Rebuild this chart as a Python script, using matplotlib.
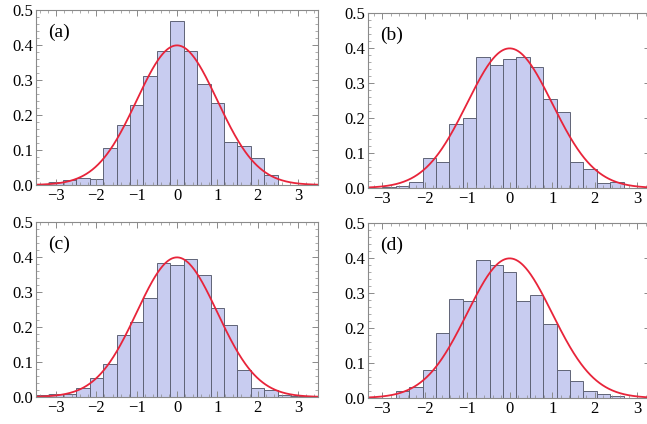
import numpy as np
import matplotlib
matplotlib.use("Agg")
import matplotlib.pyplot as plt
from matplotlib.ticker import MultipleLocator

plt.rcParams['font.family'] = ['Liberation Serif', 'DejaVu Serif']

# ---- data ----
width_a = 1.0 / 3.0
centers_a = [-3.0, -2.667, -2.333, -2.0, -1.667, -1.333, -1.0, -0.667, -0.333, 0.0,
             0.333, 0.667, 1.0, 1.333, 1.667, 2.0, 2.333]
heights_a = [0.010, 0.013, 0.020, 0.018, 0.107, 0.172, 0.228, 0.311, 0.383, 0.469,
             0.383, 0.289, 0.233, 0.124, 0.112, 0.077, 0.029]

width_b = 0.315
centers_b = [-2.835, -2.52, -2.205, -1.89, -1.575, -1.26, -0.945, -0.63, -0.315, 0.0,
             0.315, 0.63, 0.945, 1.26, 1.575, 1.89, 2.205, 2.52]
heights_b = [0.003, 0.005, 0.017, 0.085, 0.074, 0.182, 0.199, 0.375, 0.351, 0.368,
             0.375, 0.346, 0.254, 0.217, 0.073, 0.055, 0.014, 0.017]

width_c = 1.0 / 3.0
centers_c = [-3.333, -3.0, -2.667, -2.333, -2.0, -1.667, -1.333, -1.0, -0.667, -0.333, 0.0,
             0.333, 0.667, 1.0, 1.333, 1.667, 2.0, 2.333, 2.667, 3.0]
heights_c = [0.005, 0.009, 0.010, 0.027, 0.053, 0.094, 0.178, 0.215, 0.282, 0.382, 0.377,
             0.395, 0.348, 0.255, 0.207, 0.076, 0.027, 0.019, 0.007, 0.003]

width_d = 0.315
centers_d = [-2.52, -2.205, -1.89, -1.575, -1.26, -0.945, -0.63, -0.315, 0.0,
             0.315, 0.63, 0.945, 1.26, 1.575, 1.89, 2.205, 2.52]
heights_d = [0.021, 0.031, 0.081, 0.185, 0.284, 0.276, 0.395, 0.380, 0.361,
             0.276, 0.294, 0.211, 0.081, 0.048, 0.021, 0.011, 0.007]

panel_labels = ['(a)', '(b)', '(c)', '(d)']
x_ticks = [-3, -2, -1, 0, 1, 2, 3]
y_ticks = [0.0, 0.1, 0.2, 0.3, 0.4, 0.5]

# reference normal density parameters
mu, sigma = 0.0, 1.0

panels = [(centers_a, heights_a, width_a), (centers_b, heights_b, width_b),
          (centers_c, heights_c, width_c), (centers_d, heights_d, width_d)]

fig = plt.figure(figsize=(6.47, 4.24), dpi=100)
rects = [
    [36 / 647, (424 - 185) / 424, 282 / 647, 175 / 424],
    [368 / 647, (424 - 188) / 424, 282 / 647, 175 / 424],
    [36 / 647, (424 - 397) / 424, 282 / 647, 175 / 424],
    [368 / 647, (424 - 398) / 424, 282 / 647, 175 / 424],
]
xlims = [(-3.5, 3.5), (-3.33, 3.30), (-3.5, 3.5), (-3.33, 3.30)]

xs = np.linspace(-3.6, 3.6, 500)
pdf = np.exp(-0.5 * ((xs - mu) / sigma) ** 2) / (sigma * np.sqrt(2 * np.pi))

frame_col = '#8a8a8a'
for (cent, hts, w), rect, lab, xl in zip(panels, rects, panel_labels, xlims):
    ax = fig.add_axes(rect)
    ax.bar(cent, hts, width=w, color='#c8ccf0', edgecolor='#5f6376',
           linewidth=0.7, align='center')
    ax.plot(xs, pdf, color='#e8243a', lw=1.3)
    ax.set_xlim(*xl)
    ax.set_ylim(0, 0.5)
    ax.set_xticks(x_ticks)
    ax.set_xticklabels([f'{t}'.replace('-', '\u2212') for t in x_ticks])
    ax.set_yticks(y_ticks)
    ax.set_yticklabels([f'{t:.1f}' for t in y_ticks])
    ax.xaxis.set_minor_locator(MultipleLocator(0.2))
    ax.yaxis.set_minor_locator(MultipleLocator(0.02))
    ax.tick_params(which='both', direction='in', top=True, right=True,
                   color=frame_col, labelsize=12, pad=2)
    ax.tick_params(which='major', length=4, width=0.7)
    ax.tick_params(which='minor', length=2, width=0.5)
    for s in ax.spines.values():
        s.set_color(frame_col)
        s.set_linewidth(0.8)
    ax.text(0.043, 0.87, lab, transform=ax.transAxes, fontsize=14,
            ha='left', va='center')

fig.savefig('out.png', dpi=100)
